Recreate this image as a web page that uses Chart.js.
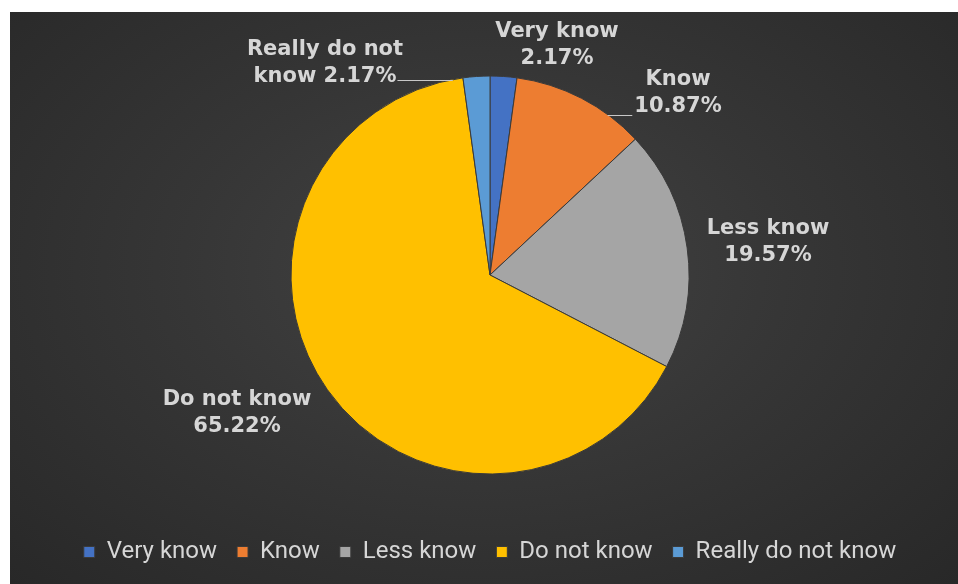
<!DOCTYPE html>
<html>
<head>
<meta charset="utf-8">
<script src="https://cdn.jsdelivr.net/npm/chart.js@4.4.0/dist/chart.umd.min.js"></script>
<style>
  html, body { margin: 0; padding: 0; background: #fff; width: 958px; height: 584px; overflow: hidden; }
  #wrap {
    position: absolute; left: 10px; top: 12px; width: 948px; height: 572px;
    background: radial-gradient(ellipse at 50% 45%, #434343 0%, #363636 45%, #282828 100%);
  }
  canvas { display: block; }
</style>
</head>
<body>
<div id="wrap"><canvas id="chartCanvas" width="948" height="572"></canvas></div>
<script>
// ------- data
const categories = ['Very know', 'Know', 'Less know', 'Do not know', 'Really do not know'];
const shares = [2.17, 10.87, 19.57, 65.22, 2.17];
const sliceColors = ['#4472C4', '#ED7D31', '#A5A5A5', '#FFC000', '#5B9BD5'];

// data label text, split on two lines like the original
const labelLines = categories.map((c, i) => {
  const pct = shares[i].toFixed(2) + '%';
  if (c === 'Really do not know') return ['Really do not', 'know ' + pct];
  return [c, pct];
});

// label centre relative to the pie centre (px)
const labelSpots = [[67, -230], [188, -182], [278, -33], [-253, 138], [-165, -212]];
// leader lines: which side of the label they leave from, and y shift below line 2
const leaders = [null, { side: 'left', dy: 8 }, null, null, { side: 'right', dy: 3 }];

const pieLabels = {
  id: 'pieLabels',
  afterDatasetsDraw(chart) {
    const ctx = chart.ctx;
    const meta = chart.getDatasetMeta(0);
    ctx.save();
    ctx.font = 'bold 21px Verdana, "DejaVu Sans", "Noto Sans", sans-serif';
    ctx.fillStyle = '#d6d6d6';
    ctx.strokeStyle = '#c8c8c8';
    ctx.lineWidth = 1;
    ctx.textAlign = 'center';
    ctx.textBaseline = 'middle';
    meta.data.forEach((arc, i) => {
      const { x, y, outerRadius } = arc.getProps(['x', 'y', 'outerRadius'], true);
      const lx = x + labelSpots[i][0];
      const ly = y + labelSpots[i][1];
      const lines = labelLines[i];
      lines.forEach((t, k) => ctx.fillText(t, lx, ly + (k - (lines.length - 1) / 2) * 27));
      const ld = leaders[i];
      if (ld) {
        const w = ctx.measureText(lines[1]).width;
        const yy = ly + 13.5 + ld.dy;
        const half = Math.sqrt(Math.max(0, outerRadius * outerRadius - (yy - y) * (yy - y)));
        const x0 = ld.side === 'left' ? lx - w / 2 - 2 : lx + w / 2 + 1;
        const x1 = ld.side === 'left' ? x + half : x - half;
        ctx.beginPath();
        ctx.moveTo(x0, Math.round(yy) + 0.5);
        ctx.lineTo(x1, Math.round(yy) + 0.5);
        ctx.stroke();
      }
    });
    ctx.restore();
  }
};

const ctx = document.getElementById('chartCanvas').getContext('2d');
new Chart(ctx, {
  type: 'pie',
  data: {
    labels: categories,
    datasets: [{
      data: shares,
      backgroundColor: sliceColors,
      borderColor: '#3a3a3a',
      borderWidth: 1,
      radius: 199
    }]
  },
  options: {
    responsive: false,
    animation: false,
    layout: { padding: { top: 18, bottom: 10, left: 12, right: 0 } },
    plugins: {
      legend: {
        position: 'bottom',
        labels: {
          color: '#d6d6d6',
          font: { family: 'Roboto', size: 24 },
          boxWidth: 11,
          boxHeight: 11,
          padding: 20
        }
      },
      tooltip: { enabled: false }
    }
  },
  plugins: [pieLabels]
});
</script>
</body>
</html>
